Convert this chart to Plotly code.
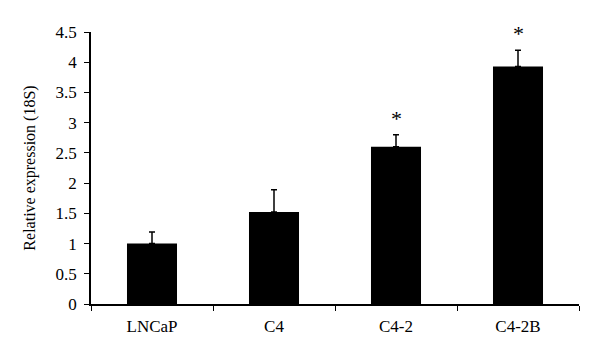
import plotly.graph_objects as go

categories = ["LNCaP", "C4", "C4-2", "C4-2B"]
values = [1.00, 1.52, 2.60, 3.93]
errors = [0.19, 0.37, 0.20, 0.27]
significant = [False, False, True, True]

fig = go.Figure()
fig.add_trace(go.Bar(
    x=categories, y=values,
    marker=dict(color="black", line=dict(color="black", width=0)),
    error_y=dict(type="data", array=errors, arrayminus=[0]*len(errors),
                 symmetric=False, color="black", thickness=1.5, width=3),
    showlegend=False,
))

for c, v, e, s in zip(categories, values, errors, significant):
    if s:
        fig.add_annotation(x=c, y=v + e, text="*", showarrow=False,
                           yanchor="bottom", yshift=2,
                           font=dict(family="Liberation Serif", size=22, color="black"))

fig.update_layout(
    width=592, height=355,
    margin=dict(l=83, r=21, t=24, b=59),
    paper_bgcolor="white", plot_bgcolor="white",
    bargap=0.59,
    font=dict(family="Liberation Serif", size=16, color="black"),
)
fig.update_xaxes(
    automargin=False,
    showline=True, linecolor="black", linewidth=1.5,
    ticks="outside", tickson="boundaries", ticklen=5, tickcolor="black", tickwidth=1,
    showgrid=False, tickfont=dict(size=17), ticklabelstandoff=6,
)
fig.update_yaxes(
    automargin=False,
    range=[0, 4.5], dtick=0.5, showline=True, linecolor="black", linewidth=1.5,
    ticks="outside", ticklen=5, tickcolor="black", tickwidth=1,
    showgrid=False, zeroline=False, tickfont=dict(size=17), ticklabelstandoff=4,
    title=dict(text="Relative expression (18S)", font=dict(size=16), standoff=16),
)

fig.write_html("out.html")
